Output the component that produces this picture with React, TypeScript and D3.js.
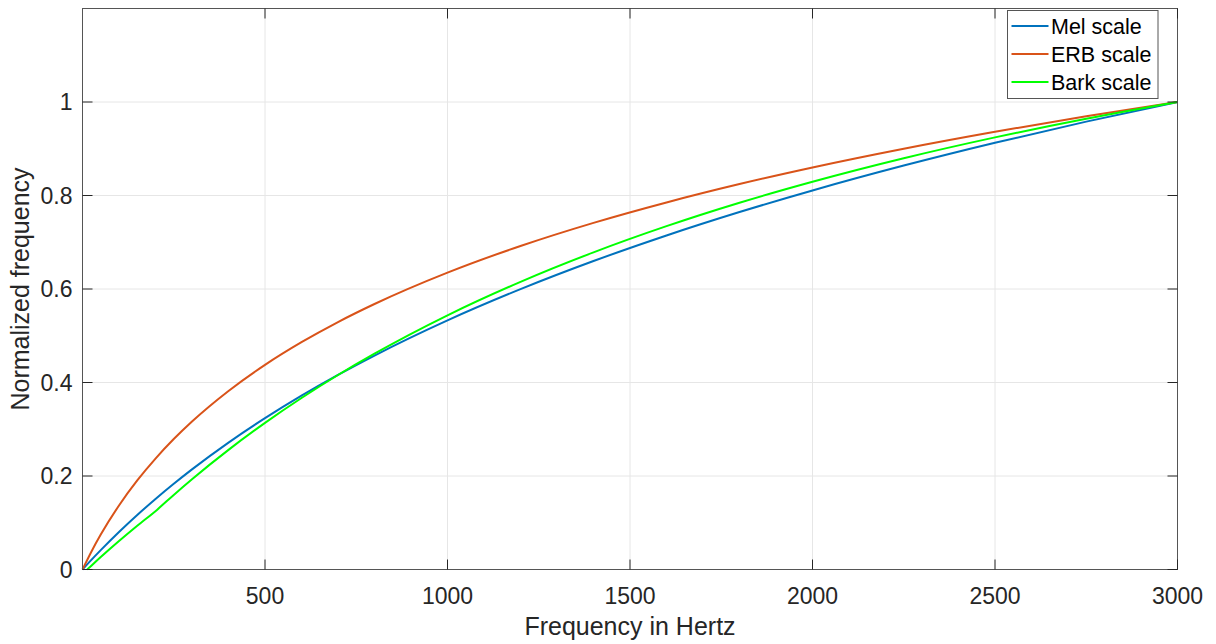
import React, { useEffect, useRef } from 'react';
import * as d3 from 'd3';

// frequency samples (Hz) read along the x axis
const melFreqs = [0, 25, 50, 100, 150, 200, 250, 300, 400, 500, 600, 700, 800, 1000, 1200, 1400, 1600, 1800, 2000, 2250, 2500, 2750, 3000];
const melValues = [0, 0.0211, 0.0414, 0.0802, 0.1166, 0.1509, 0.1834, 0.2142, 0.2715, 0.3237, 0.3718, 0.4163, 0.4577, 0.5329, 0.5997, 0.6598, 0.7145, 0.7646, 0.8108, 0.8640, 0.9128, 0.9580, 1];

const erbFreqs = [0, 25, 50, 100, 150, 200, 250, 300, 400, 500, 600, 700, 800, 1000, 1200, 1400, 1600, 1800, 2000, 2250, 2500, 2750, 3000];
const erbValues = [0, 0.0392, 0.0747, 0.1370, 0.1905, 0.2373, 0.2790, 0.3165, 0.3819, 0.4377, 0.4862, 0.5293, 0.5679, 0.6350, 0.6920, 0.7415, 0.7852, 0.8245, 0.8600, 0.9001, 0.9364, 0.9696, 1];

const barkFreqs = [13, 25, 50, 100, 150, 204, 250, 300, 400, 500, 600, 700, 800, 1000, 1200, 1400, 1600, 1800, 2000, 2250, 2500, 2750, 3000];
const barkValues = [0, 0.0087, 0.0266, 0.0609, 0.0937, 0.1275, 0.1596, 0.1931, 0.2559, 0.3136, 0.3668, 0.4160, 0.4616, 0.5437, 0.6153, 0.6784, 0.7344, 0.7845, 0.8294, 0.8797, 0.9243, 0.9642, 1];

const xTicks = [500, 1000, 1500, 2000, 2500, 3000];
const yTicks = [0, 0.2, 0.4, 0.6, 0.8, 1];

const seriesNames = ['Mel scale', 'ERB scale', 'Bark scale'];
const seriesColors = ['#0072BD', '#D95319', '#00FF00'];

const W = 1216;
const H = 644;
const FONT = '"Liberation Sans", Arial, Helvetica, sans-serif';
const INK = '#262626';

export default function App() {
  const svgRef = useRef<SVGSVGElement | null>(null);

  useEffect(() => {
    const svg = d3.select(svgRef.current);
    svg.selectAll('*').remove();

    const margin = { top: 8.5, right: 38.5, bottom: 74.5, left: 82.5 };
    const x = d3.scaleLinear().domain([0, 3000]).range([margin.left, W - margin.right]);
    const y = d3.scaleLinear().domain([0, 1.2]).range([H - margin.bottom, margin.top]);
    const [x0, x1] = x.range();
    const [y0, y1] = y.range();

    // grid
    const grid = svg.append('g').attr('stroke', '#e6e6e6').attr('stroke-width', 1);
    xTicks.forEach((t) => {
      grid.append('line').attr('x1', x(t)).attr('x2', x(t)).attr('y1', y0).attr('y2', y1);
    });
    yTicks.forEach((t) => {
      grid.append('line').attr('x1', x0).attr('x2', x1).attr('y1', y(t)).attr('y2', y(t));
    });

    // curves
    const line = d3
      .line<[number, number]>()
      .x((d) => x(d[0]))
      .y((d) => y(d[1]))
      .curve(d3.curveMonotoneX);

    const series: [number, number][][] = [
      melFreqs.map((f, i) => [f, melValues[i]]),
      erbFreqs.map((f, i) => [f, erbValues[i]]),
      barkFreqs.map((f, i) => [f, barkValues[i]]),
    ];
    series.forEach((s, i) => {
      svg
        .append('path')
        .datum(s)
        .attr('fill', 'none')
        .attr('stroke', seriesColors[i])
        .attr('stroke-width', 2)
        .attr('d', line);
    });

    // box + ticks on all sides
    const ax = svg.append('g').attr('stroke', INK).attr('stroke-width', 1);
    ax.append('rect')
      .attr('x', x0)
      .attr('y', y1)
      .attr('width', x1 - x0)
      .attr('height', y0 - y1)
      .attr('fill', 'none')
      .attr('stroke', '#555');
    const tl = 10;
    xTicks.forEach((t) => {
      ax.append('line').attr('x1', x(t)).attr('x2', x(t)).attr('y1', y0).attr('y2', y0 - tl);
      ax.append('line').attr('x1', x(t)).attr('x2', x(t)).attr('y1', y1).attr('y2', y1 + tl);
    });
    yTicks.forEach((t) => {
      ax.append('line').attr('x1', x0).attr('x2', x0 + tl).attr('y1', y(t)).attr('y2', y(t));
      ax.append('line').attr('x1', x1).attr('x2', x1 - tl).attr('y1', y(t)).attr('y2', y(t));
    });

    // tick labels
    svg
      .append('g')
      .selectAll('text')
      .data(xTicks)
      .join('text')
      .attr('x', (d) => x(d))
      .attr('y', y0 + 34)
      .attr('text-anchor', 'middle')
      .attr('font-family', FONT)
      .attr('font-size', 23)
      .attr('fill', INK)
      .text((d) => String(d));

    svg
      .append('g')
      .selectAll('text')
      .data(yTicks)
      .join('text')
      .attr('x', x0 - 10)
      .attr('y', (d) => y(d) + 8)
      .attr('text-anchor', 'end')
      .attr('font-family', FONT)
      .attr('font-size', 23)
      .attr('fill', INK)
      .text((d) => d3.format('~g')(d));

    // axis titles
    svg
      .append('text')
      .attr('x', (x0 + x1) / 2)
      .attr('y', 635)
      .attr('text-anchor', 'middle')
      .attr('font-family', FONT)
      .attr('font-size', 25)
      .attr('fill', INK)
      .text('Frequency in Hertz');

    svg
      .append('text')
      .attr('transform', `translate(29,${(y0 + y1) / 2}) rotate(-90)`)
      .attr('text-anchor', 'middle')
      .attr('font-family', FONT)
      .attr('font-size', 25)
      .attr('fill', INK)
      .text('Normalized frequency');

    // legend
    const lg = svg.append('g').attr('transform', 'translate(1007.5,10.5)');
    lg.append('rect')
      .attr('width', 150.5)
      .attr('height', 88)
      .attr('fill', 'white')
      .attr('stroke', '#555')
      .attr('stroke-width', 1);
    seriesNames.forEach((name, i) => {
      const cy = 15.5 + i * 28;
      lg.append('line')
        .attr('x1', 4)
        .attr('x2', 41)
        .attr('y1', cy)
        .attr('y2', cy)
        .attr('stroke', seriesColors[i])
        .attr('stroke-width', 2);
      lg.append('text')
        .attr('x', 43.5)
        .attr('y', cy + 8)
        .attr('font-family', FONT)
        .attr('font-size', 21.5)
        .attr('fill', '#000')
        .text(name);
    });
  }, []);

  return (
    <svg ref={svgRef} width={W} height={H} style={{ display: 'block', position: 'absolute', left: 0, top: 0 }} />
  );
}
